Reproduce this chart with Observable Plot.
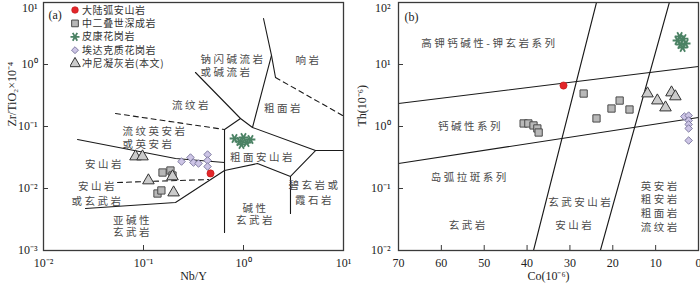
<!DOCTYPE html>
<html><head><meta charset="utf-8">
<script src="https://cdn.jsdelivr.net/npm/d3@7"></script>
<script src="https://cdn.jsdelivr.net/npm/@observablehq/plot@0.6"></script>
<style>
body{margin:0;background:#fff;}
#wrap{position:relative;width:700px;height:286px;overflow:hidden;}
.panel{position:absolute;top:0;}
#pa{left:0px}
#pb{left:350px}
svg text.cjk{letter-spacing:2.5px}
#legend{position:absolute;left:70px;top:0px;}
</style></head>
<body>
<div id="wrap"><div id="pa" class="panel"></div><div id="pb" class="panel"></div><div id="legend"></div></div>
<script>
// ---------- Panel (a): Zr/TiO2 vs Nb/Y ----------
const nbY_arc = [0.468];
const zr_arc = [0.0175];
const nbY_permian = [0.155, 0.186, 0.195, 0.138, 0.151];
const zr_permian = [0.0181, 0.0195, 0.0162, 0.0083, 0.0093];
const nbY_picon = [0.813, 0.912, 1.0, 1.072, 1.175, 0.955];
const zr_picon = [0.0640, 0.0573, 0.0665, 0.0552, 0.0617, 0.0513];
const nbY_adakite = [0.240, 0.295, 0.316, 0.355, 0.437, 0.437, 0.437];
const zr_adakite = [0.0272, 0.0316, 0.0262, 0.0253, 0.0353, 0.0283, 0.0226];
const nbY_tuff = [0.0832, 0.0977, 0.112, 0.195, 0.200];
const zr_tuff = [0.0328, 0.0328, 0.01346, 0.01563, 0.0086];

const solidLinesA = [
  [[1.585, 5.52], [1.905, 1.40], [2.09, 0.617]],
  [[1.905, 1.40], [1.23, 0.0964]],
  [[0.331, 0.743], [0.933, 0.1346], [1.23, 0.0964], [5.25, 0.0410], [10, 0.0410]],
  [[0.933, 0.1346], [0.646, 0.0895], [0.646, 0.00195]],
  [[5.25, 0.0410], [2.95, 0.01563], [2.95, 0.00395]],
  [[0.646, 0.0195], [1.38, 0.0253], [2.95, 0.01563]],
  [[0.0263, 0.00475], [0.209, 0.00594], [0.646, 0.0195]],
  [[0.0219, 0.0617], [0.209, 0.0305], [0.646, 0.0262]]
];
const dashedLinesA = [
  [[2.09, 0.617], [10, 0.148]],
  [[0.0525, 0.162], [0.646, 0.0895]],
  [[0.055, 0.0125], [0.447, 0.01396]]
];
// single-line field names
const labelsA_text = ["响岩", "流纹岩", "粗面岩", "安山岩", "粗面安山岩"];
const labelsA_x = [4.47, 0.302, 2.51, 0.0407, 1.549];
const labelsA_y = [1.16, 0.218, 0.195, 0.0244, 0.0316];
// two-line field names, tight spacing
const labelsA2_text = ["亚碱性\n玄武岩", "碱性\n玄武岩"];
const labelsA2_x = [0.0776, 1.318];
const labelsA2_y = [0.00244, 0.00381];
// two-line field names, wider spacing
const labelsA3_text = ["安山岩\n或玄武岩", "碧玄岩或\n霞石岩"];
const labelsA3_x = [0.0347, 5.13];
const labelsA3_y = [0.00845, 0.00879];
// two-line field names, left aligned
const labelsAL_text = ["钠闪碱流岩\n或碱流岩", "流纹英安岩\n或英安岩"];
const labelsAL_x = [0.372, 0.0617];
const labelsAL_y = [0.964, 0.0665];
const ticksA_x = [0.01, 0.1, 1, 10];
const ticksA_y = [0.001, 0.01, 0.1, 1, 10];

// ---------- Panel (b): Th vs Co ----------
const co_arc = [31.5];
const th_arc = [4.58];
const co_permian = [40.8, 39.7, 38.5, 37.6, 37.3, 26.8, 18.4, 20.3, 16.1, 23.8];
const th_permian = [1.12, 1.12, 1.04, 0.93, 0.80, 3.40, 2.62, 1.95, 1.88, 1.35];
const co_picon = [4.9, 4.2, 3.5, 3.0, 3.7, 4.4];
const th_picon = [24.4, 21.0, 26.2, 21.8, 18.8, 28.3];
const co_adakite = [3.3, 2.3, 2.3, 2.3, 2.3, 2.3];
const th_adakite = [1.45, 1.50, 1.25, 1.08, 0.93, 0.594];
const co_tuff = [11.9, 9.6, 7.7, 6.3, 5.4];
const th_tuff = [3.40, 2.62, 2.02, 3.53, 3.05];

const linesB = [
  [[70, 2.35], [0, 9.29]],
  [[70, 0.253], [0, 1.40]],
  [[38.5, 0.01], [23.8, 100]],
  [[22.9, 0.01], [6.8, 100]]
];
const labelsB_text = ["高钾钙碱性-钾玄岩系列", "钙碱性系列", "岛弧拉斑系列", "玄武岩", "玄武安山岩", "安山岩"];
const labelsB_x = [48.8, 53.2, 53.4, 53.7, 27.5, 28.9];
const labelsB_y = [21.8, 1.0, 0.150, 0.0253, 0.0594, 0.0253];
const labelsB4_text = ["英安岩\n粗安岩\n粗面岩\n流纹岩"];
const labelsB4_x = [8.9];
const labelsB4_y = [0.0523];
const ticksB_x = [70, 60, 50, 40, 30, 20, 10, 0];
const ticksB_y = [0.01, 0.1, 1, 10, 100];

const legendNames = ["大陆弧安山岩", "中二叠世深成岩", "皮康花岗岩", "埃达克质花岗岩", "冲尼凝灰岩(本文)"];

// ---------- helpers ----------
const supMap = {"-": "⁻", "0": "⁰", "1": "¹", "2": "²", "3": "³", "4": "⁴", "5": "⁵", "6": "⁶", "7": "⁷", "8": "⁸", "9": "⁹"};
const sup = s => String(s).split("").map(c => supMap[c] || c).join("");
const powFmt = d => "10" + sup(Math.round(Math.log10(d)));
const pts = (xs, ys) => xs.map((x, i) => ({x, y: ys[i]}));
const segs = lines => lines.flatMap((seg, k) => seg.map(p => ({x: p[0], y: p[1], k})));
const labs = (t, xs, ys) => t.map((s, i) => ({t: s, x: xs[i], y: ys[i]}));

const LINE = "#1a1a1a";
const TXT = "#4a4a4a";
const CJK = "Noto Sans CJK SC";
const SERIF = "Liberation Serif";
const sty = {
  arc: {symbol: "circle", r: 3.6, fill: "#e3262a", stroke: "#c01818", strokeWidth: 0.6},
  permian: {symbol: "square", r: 4.1, fill: "#b8b8b8", stroke: "#4a4a4a", strokeWidth: 1},
  picon: {symbol: "asterisk", r: 4.6, fill: "none", stroke: "#4b8264", strokeWidth: 1.8, rotate: 90},
  adakite: {symbol: "diamond2", r: 3.4, fill: "#cdc5e6", stroke: "#76739a", strokeWidth: 0.9},
  tuff: {symbol: "triangle", r: 4.3, fill: "#cbcbcb", stroke: "#333", strokeWidth: 1}
};

function dots(xs, ys, s) {
  return Plot.dot(pts(xs, ys), {x: "x", y: "y", ...s});
}
const topOf = arr => [arr[arr.length - 1]];
const restOf = arr => arr.slice(0, -1);
const cjkText = (data, extra) => Plot.text(data, {x: "x", y: "y", text: "t", fontFamily: CJK, fontSize: 10.5, fill: TXT, ...extra});
const markCJK = svg => { d3.select(svg).selectAll(`g[font-family="${CJK}"] text`).classed("cjk", true); return svg; };

// ---------- Panel (a) ----------
const chartA = Plot.plot({
  width: 350, height: 286,
  marginLeft: 43, marginRight: 7, marginTop: 2, marginBottom: 36,
  style: {fontFamily: SERIF, fontSize: "12px", color: "#222", background: "transparent", overflow: "visible"},
  x: {type: "log", domain: [0.01, 10]},
  y: {type: "log", domain: [0.001, 10]},
  marks: [
    Plot.line(segs(solidLinesA), {x: "x", y: "y", z: "k", stroke: LINE, strokeWidth: 1.1}),
    Plot.line(segs(dashedLinesA), {x: "x", y: "y", z: "k", stroke: LINE, strokeWidth: 1.1, strokeDasharray: "5,4"}),
    cjkText(labs(labelsA_text, labelsA_x, labelsA_y), {}),
    cjkText(labs(labelsA2_text, labelsA2_x, labelsA2_y), {lineHeight: 1.15}),
    cjkText(labs(labelsA3_text, labelsA3_x, labelsA3_y), {lineHeight: 1.35}),
    cjkText(labs(labelsAL_text, labelsAL_x, labelsAL_y), {textAnchor: "start", lineHeight: 1.25}),
    dots(nbY_permian, zr_permian, sty.permian),
    dots(nbY_tuff, zr_tuff, sty.tuff),
    dots(nbY_adakite, zr_adakite, sty.adakite),
    dots(nbY_picon, zr_picon, sty.picon),
    dots(nbY_arc, zr_arc, sty.arc),
    Plot.frame({stroke: "#3a3a3a", strokeWidth: 1.3}),
    Plot.axisX(ticksA_x, {tickSize: 0, tickPadding: 8, tickFormat: powFmt, label: null, fontSize: 12}),
    Plot.axisX(ticksA_x, {tickSize: -5, tickFormat: () => "", label: null, stroke: "#3a3a3a"}),
    Plot.axisY(restOf(ticksA_y), {tickSize: 0, tickPadding: 6, tickFormat: powFmt, label: null, fontSize: 12}),
    Plot.axisY(topOf(ticksA_y), {tickSize: 0, tickPadding: 6, dy: 6, tickFormat: powFmt, label: null, fontSize: 12}),
    Plot.axisY(ticksA_y, {tickSize: -5, tickFormat: () => "", label: null, stroke: "#3a3a3a"}),
    Plot.text(["Nb/Y"], {frameAnchor: "bottom", dy: 29, fontFamily: SERIF, fontSize: 12, fill: "#222"}),
    Plot.text(["Zr/TiO₂×10⁻⁴"], {frameAnchor: "left", dx: -31, rotate: -90, fontFamily: SERIF, fontSize: 12, fill: "#222"}),
    Plot.text(["(a)"], {frameAnchor: "top-left", dx: 5, dy: 8, textAnchor: "start", fontFamily: SERIF, fontSize: 12, fill: "#222"})
  ]
});
document.getElementById("pa").append(markCJK(chartA));

// ---------- Panel (b) ----------
const chartB = Plot.plot({
  width: 350, height: 286,
  marginLeft: 48, marginRight: 2, marginTop: 2, marginBottom: 36,
  style: {fontFamily: SERIF, fontSize: "12px", color: "#222", background: "transparent", overflow: "visible"},
  x: {type: "linear", domain: [70, 0]},
  y: {type: "log", domain: [0.01, 100]},
  marks: [
    Plot.line(segs(linesB), {x: "x", y: "y", z: "k", stroke: LINE, strokeWidth: 1.1}),
    cjkText(labs(labelsB_text, labelsB_x, labelsB_y), {}),
    cjkText(labs(labelsB4_text, labelsB4_x, labelsB4_y), {lineHeight: 1.3}),
    dots(co_permian, th_permian, sty.permian),
    dots(co_tuff, th_tuff, sty.tuff),
    dots(co_adakite, th_adakite, sty.adakite),
    dots(co_picon, th_picon, sty.picon),
    dots(co_arc, th_arc, sty.arc),
    Plot.frame({stroke: "#3a3a3a", strokeWidth: 1.3}),
    Plot.axisX(ticksB_x, {tickSize: 0, tickPadding: 8, tickFormat: d => String(d), label: null, fontSize: 12}),
    Plot.axisX(ticksB_x, {tickSize: -5, tickFormat: () => "", label: null, stroke: "#3a3a3a"}),
    Plot.axisY(restOf(ticksB_y), {tickSize: 0, tickPadding: 8, tickFormat: powFmt, label: null, fontSize: 12}),
    Plot.axisY(topOf(ticksB_y), {tickSize: 0, tickPadding: 8, dy: 6, tickFormat: powFmt, label: null, fontSize: 12}),
    Plot.axisY(ticksB_y, {tickSize: -5, tickFormat: () => "", label: null, stroke: "#3a3a3a"}),
    Plot.text(["Co(10⁻⁶)"], {frameAnchor: "bottom", dy: 29, fontFamily: SERIF, fontSize: 12, fill: "#222"}),
    Plot.text(["Th(10⁻⁶)"], {frameAnchor: "left", dx: -36, rotate: -90, fontFamily: SERIF, fontSize: 12, fill: "#222"}),
    Plot.text(["(b)"], {frameAnchor: "top-left", dx: 6, dy: 10, textAnchor: "start", fontFamily: SERIF, fontSize: 12, fill: "#222"})
  ]
});
document.getElementById("pb").append(markCJK(chartB));

// ---------- Legend for panel (a) ----------
const legendStyles = [sty.arc, sty.permian, sty.picon, sty.adakite, sty.tuff];
const symType = {circle: d3.symbolCircle, square: d3.symbolSquare, asterisk: d3.symbolAsterisk, diamond2: d3.symbolDiamond2 || d3.symbolDiamond, triangle: d3.symbolTriangle};
const leg = d3.select("#legend").append("svg").attr("width", 120).attr("height", 72);
legendNames.forEach((name, i) => {
  const s = legendStyles[i];
  const g = leg.append("g").attr("transform", `translate(5,${10 + i * 13.4})`);
  g.append("path")
    .attr("d", d3.symbol(symType[s.symbol], Math.PI * s.r * s.r * 0.85)())
    .attr("fill", s.fill).attr("stroke", s.stroke).attr("stroke-width", s.strokeWidth)
    .attr("transform", s.rotate ? `rotate(${s.rotate})` : null);
  g.append("text").attr("x", 7).attr("dy", "0.36em")
    .attr("font-family", CJK).attr("font-size", 10).attr("fill", "#333")
    .attr("letter-spacing", "0.6px").text(name);
});
</script>
</body></html>
